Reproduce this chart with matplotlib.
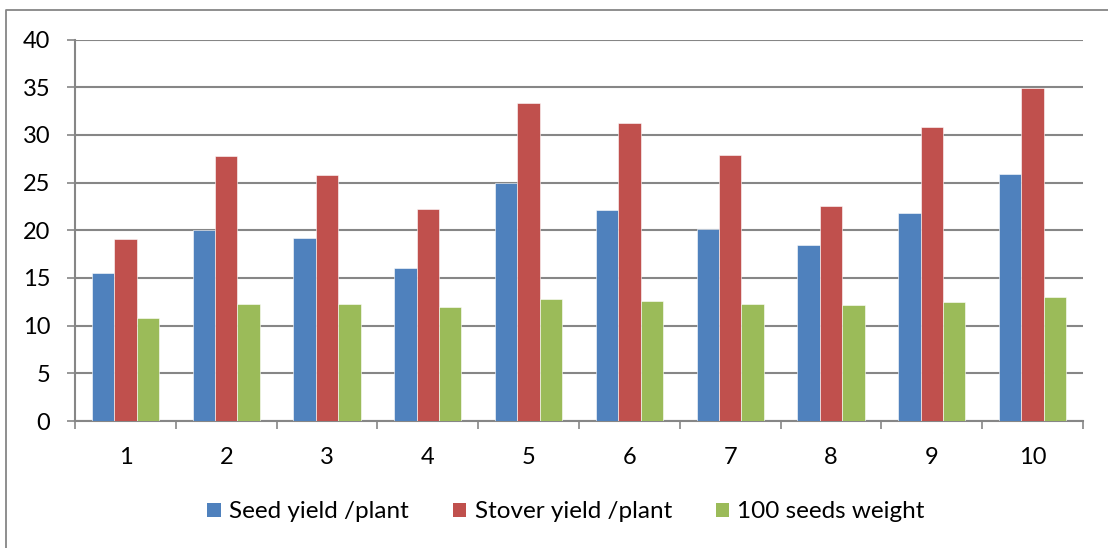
import numpy as np
import matplotlib
matplotlib.use("Agg")
import matplotlib.pyplot as plt
from matplotlib.lines import Line2D
from matplotlib.patches import Patch

plt.rcParams['font.family'] = ['Lato', 'DejaVu Sans']

groups = ['1', '2', '3', '4', '5', '6', '7', '8', '9', '10']
seed_yield = [15.5, 20.0, 19.2, 16.0, 25.0, 22.15, 20.1, 18.5, 21.8, 25.9]
stover_yield = [19.05, 27.75, 25.75, 22.2, 33.3, 31.2, 27.9, 22.5, 30.8, 34.87]
seed_weight = [10.8, 12.26, 12.23, 11.95, 12.79, 12.6, 12.26, 12.16, 12.44, 13.03]

series = [("Seed yield /plant", seed_yield, "#4F81BD"),
          ("Stover yield /plant", stover_yield, "#C0504D"),
          ("100 seeds weight", seed_weight, "#9BBB59")]

W, H = 1108, 548
fig = plt.figure(figsize=(W / 100, H / 100), dpi=100)
ax = fig.add_axes([75 / W, (H - 421) / H, (1083 - 75) / W, (421 - 39.5) / H])

grid_col = "#868686"
x = np.arange(len(groups))
bw = 1 / 4.5
for i, (name, vals, col) in enumerate(series):
    ax.bar(x + (i - 1) * bw, vals, width=bw, color=col,
           edgecolor="white", linewidth=0.4, zorder=3)

ax.set_xlim(-0.5, len(groups) - 0.5)
ax.set_ylim(0, 40)
ax.set_yticks(range(0, 41, 5))
ax.yaxis.grid(True, color=grid_col, linewidth=1.5, zorder=0)
ax.set_axisbelow(True)

# category ticks sit between groups, labels at group centres
ax.set_xticks(np.arange(-0.5, len(groups), 1))
ax.set_xticklabels([])
ax.set_xticks(x, minor=True)
ax.set_xticklabels(groups, minor=True)
ax.tick_params(axis='x', which='major', length=5.8, width=1.2, color=grid_col, direction='out')
ax.tick_params(axis='x', which='minor', length=0, pad=19, labelsize=17)
ax.tick_params(axis='y', length=5.8, width=1.2, color=grid_col, pad=12, labelsize=17)

for side in ['top', 'right']:
    ax.spines[side].set_visible(False)
for side in ['left', 'bottom']:
    ax.spines[side].set_color(grid_col)
    ax.spines[side].set_linewidth(1.5)

handles = [Patch(facecolor=c, edgecolor='none') for _, _, c in series]
fig.legend(handles, [n for n, _, _ in series], loc='center',
           bbox_to_anchor=(566 / W, (H - 512) / H), ncol=3, frameon=False,
           fontsize=17.5, handlelength=0.55, handleheight=0.55,
           handletextpad=0.35, columnspacing=1.8)

# chart-area border (top and left edges)
fig.add_artist(Line2D([6 / W, 6 / W, 1.0], [0.0, (H - 10) / H, (H - 10) / H],
                      transform=fig.transFigure, color=grid_col, linewidth=1.3))

fig.savefig("out.png", dpi=100)
